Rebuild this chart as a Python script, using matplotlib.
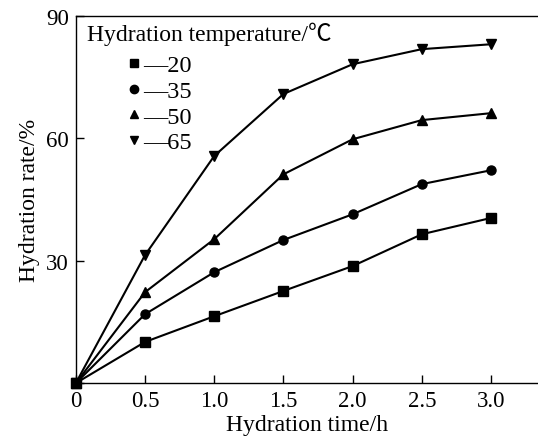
import matplotlib
matplotlib.use("Agg")
import matplotlib.pyplot as plt
from matplotlib.lines import Line2D

# ============================================================
# DATA
# ============================================================
time_h = [0, 0.5, 1.0, 1.5, 2.0, 2.5, 3.0]
temps = ["20", "35", "50", "65"]
rate_20 = [0, 10.1, 16.4, 22.6, 28.7, 36.5, 40.5]
rate_35 = [0, 16.9, 27.2, 35.1, 41.4, 48.8, 52.2]
rate_50 = [0, 22.3, 35.3, 51.2, 59.8, 64.5, 66.2]
rate_65 = [0, 31.4, 55.7, 70.9, 78.2, 81.9, 83.1]
markers = ["s", "o", "^", "v"]

x_ticks = [0, 0.5, 1.0, 1.5, 2.0, 2.5, 3.0]
x_ticklabels = ["0", "0.5", "1.0", "1.5", "2.0", "2.5", "3.0"]
y_ticks = [0, 30, 60, 90]
y_ticklabels = ["", "30", "60", "90"]

plt.rcParams["font.family"] = ["Liberation Serif", "Noto Sans CJK JP"]

fig = plt.figure(figsize=(5.38, 4.39), dpi=100)
ax = fig.add_axes([0.141, 0.125, 0.859, 0.836])

for rates, m in zip([rate_20, rate_35, rate_50, rate_65], markers):
    ax.plot(time_h, rates, color="black", lw=1.5, marker=m, ms=6.5,
            clip_on=False, zorder=3)

ax.set_xlim(0, 3.34)
ax.set_ylim(0, 90)
ax.set_xticks(x_ticks)
ax.set_xticklabels(x_ticklabels)
ax.set_yticks(y_ticks)
ax.set_yticklabels(y_ticklabels)
ax.tick_params(direction="in", length=6, width=1, labelsize=16.5, pad=5)
ax.spines["right"].set_visible(False)
for s in ["left", "bottom", "top"]:
    ax.spines[s].set_linewidth(1.0)

ax.set_xlabel("Hydration time/h", fontsize=17, labelpad=2)
ax.set_ylabel("Hydration rate/%", fontsize=17, labelpad=4)

# legend: title as text, entries as marker + "—value"
ax.text(0.025, 0.986, "Hydration temperature/\u2103", transform=ax.transAxes,
        fontsize=17, va="top", ha="left")
handles = [Line2D([], [], color="black", marker=m, ms=6, lw=0) for m in markers]
ax.legend(handles, ["\u2014" + t for t in temps], loc="upper left",
          bbox_to_anchor=(0.10, 0.909), frameon=False, fontsize=17.5,
          handlelength=0.6, handletextpad=0.05, labelspacing=0.15,
          borderpad=0.2, borderaxespad=0)

plt.savefig("out.png", dpi=100)
